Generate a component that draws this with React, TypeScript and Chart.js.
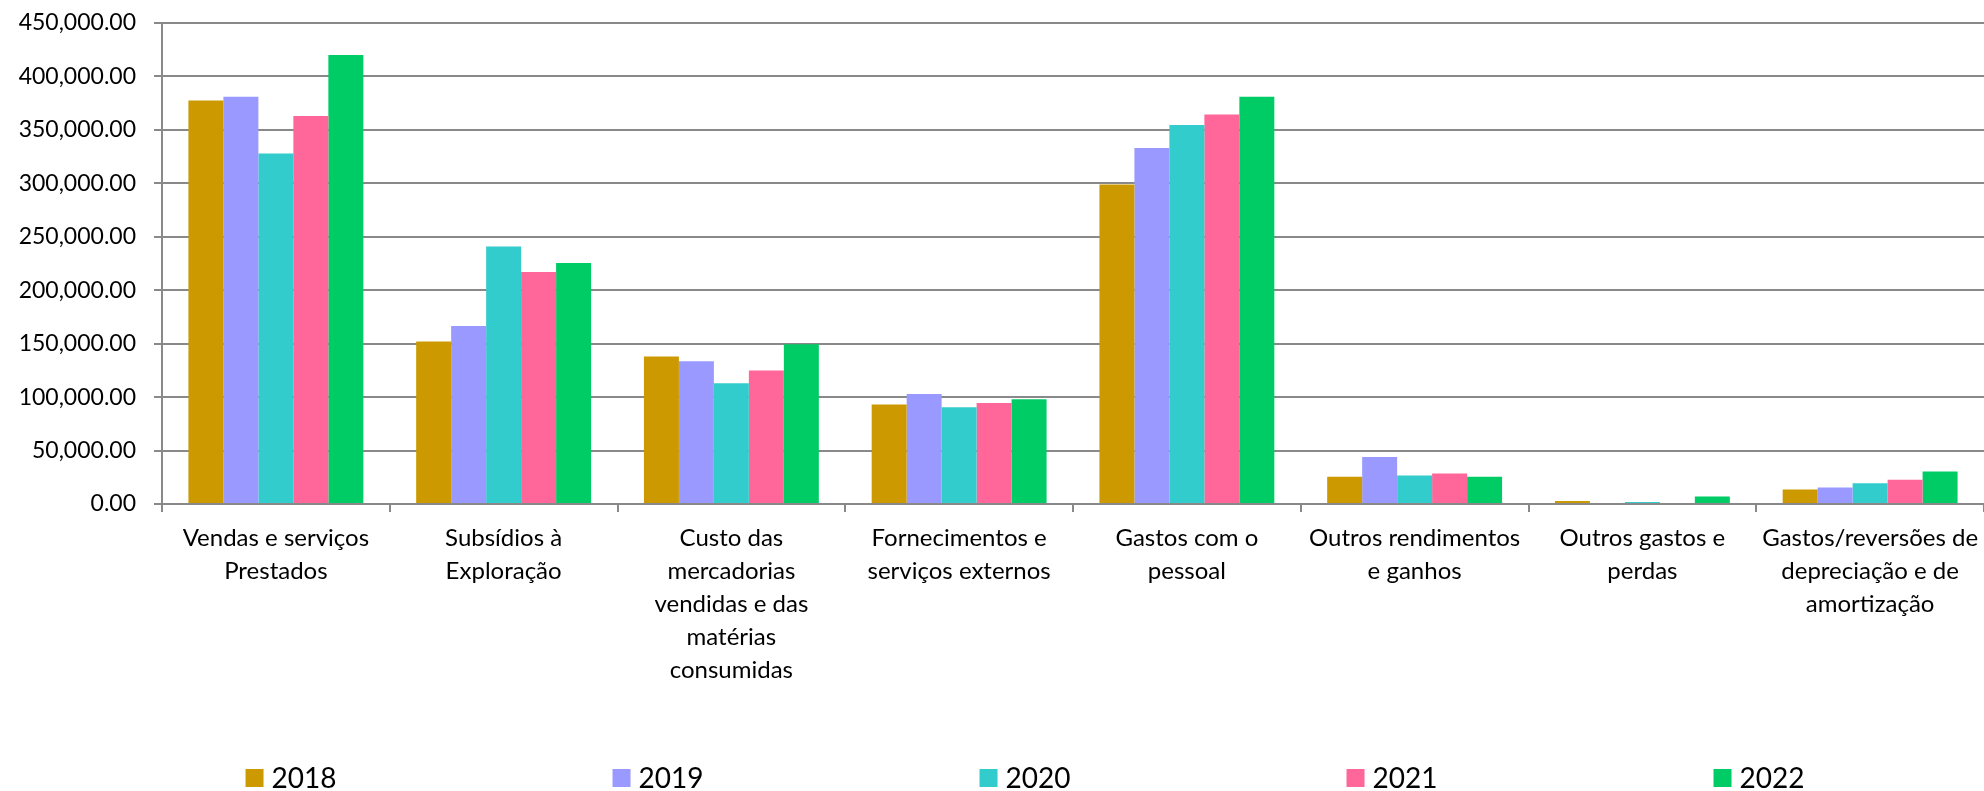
import React, { useEffect, useRef } from "react";
import { Chart, registerables } from "chart.js";

Chart.register(...registerables);

const categories: string[][] = [
  ["Vendas e serviços", "Prestados"],
  ["Subsídios à", "Exploração"],
  ["Custo das", "mercadorias", "vendidas e das", "matérias", "consumidas"],
  ["Fornecimentos e", "serviços externos"],
  ["Gastos com o", "pessoal"],
  ["Outros rendimentos", "e ganhos"],
  ["Outros gastos e", "perdas"],
  ["Gastos/reversões de", "depreciação e de", "amortização"],
];

const years: string[] = ["2018", "2019", "2020", "2021", "2022"];

const values2018: number[] = [377500, 152000, 138000, 93000, 299000, 25600, 2800, 13600];
const values2019: number[] = [381000, 166500, 133500, 103000, 333000, 44000, 900, 15500];
const values2020: number[] = [328000, 241000, 113000, 90500, 354500, 26600, 1900, 19300];
const values2021: number[] = [363000, 217000, 125000, 94500, 364500, 28500, 0, 22800];
const values2022: number[] = [420000, 225500, 149500, 98000, 381000, 25600, 7000, 30400];

const seriesValues: number[][] = [values2018, values2019, values2020, values2021, values2022];
const seriesColors: string[] = ["#CC9900", "#9999FF", "#33CCCC", "#FF6699", "#00CC66"];

const yTicks: number[] = [0, 50000, 100000, 150000, 200000, 250000, 300000, 350000, 400000, 450000];

const FONT = "Lato, 'Open Sans', sans-serif";

const fmt = (v: number) =>
  v.toLocaleString("en-US", { minimumFractionDigits: 2, maximumFractionDigits: 2 });

const bottomLegend = {
  id: "bottomLegend",
  afterDraw(chart: any) {
    const ctx = chart.ctx as CanvasRenderingContext2D;
    const box = 18;
    const gap = 8;
    const spacing = 367;
    const yCenter = 778;
    ctx.save();
    ctx.font = `28px ${FONT}`;
    ctx.textBaseline = "middle";
    ctx.textAlign = "left";
    const ds = chart.data.datasets;
    const lastW = box + gap + ctx.measureText(String(ds[ds.length - 1].label)).width;
    const total = spacing * (ds.length - 1) + lastW;
    const start = chart.width / 2 + 33 - total / 2;
    ds.forEach((d: any, i: number) => {
      const x = start + i * spacing;
      ctx.fillStyle = d.backgroundColor;
      ctx.fillRect(x, yCenter - box / 2, box, box);
      ctx.fillStyle = "#000000";
      ctx.fillText(String(d.label), x + box + gap, yCenter + 1);
    });
    ctx.restore();
  },
};

export default function App() {
  const canvasRef = useRef<HTMLCanvasElement | null>(null);

  useEffect(() => {
    if (!canvasRef.current) return;
    const chart = new Chart(canvasRef.current, {
      type: "bar",
      data: {
        labels: categories,
        datasets: years.map((y, i) => ({
          label: y,
          data: seriesValues[i],
          backgroundColor: seriesColors[i],
          borderWidth: 0,
          categoryPercentage: 0.768,
          barPercentage: 1,
        })),
      },
      options: {
        animation: false,
        responsive: false,
        maintainAspectRatio: false,
        layout: { padding: { top: 23, left: 0, right: 0, bottom: 0 } },
        plugins: {
          legend: { display: false },
          tooltip: { enabled: false },
        },
        scales: {
          x: {
            grid: {
              display: true,
              drawOnChartArea: false,
              drawTicks: true,
              tickLength: 8,
              offset: true,
              color: "#898989",
              lineWidth: 2,
            },
            border: { display: true, color: "#898989", width: 2 },
            ticks: {
              color: "#000000",
              font: { family: FONT, size: 24, lineHeight: 1.375 },
              padding: 10,
              maxRotation: 0,
              minRotation: 0,
              autoSkip: false,
            },
            afterFit: (scale: any) => {
              scale.height = 287;
              scale.paddingLeft = 0;
              scale.paddingRight = 0;
            },
          },
          y: {
            min: 0,
            max: 450000,
            afterBuildTicks: (scale: any) => {
              scale.ticks = yTicks.map((v) => ({ value: v }));
            },
            grid: {
              color: "#898989",
              lineWidth: 2,
              tickLength: 8,
              drawTicks: true,
            },
            border: { display: true, color: "#898989", width: 2 },
            ticks: {
              color: "#000000",
              font: { family: FONT, size: 23 },
              padding: 18,
              callback: (v: any) => fmt(Number(v)),
            },
            afterFit: (scale: any) => {
              scale.width = 162;
              scale.paddingTop = 0;
              scale.paddingBottom = 0;
            },
          },
        },
      },
      plugins: [bottomLegend],
    });
    return () => chart.destroy();
  }, []);

  return (
    <div style={{ position: "absolute", left: 0, top: 0, width: 1984, height: 791, background: "#ffffff" }}>
      <canvas ref={canvasRef} width={1984} height={791} style={{ display: "block", width: 1984, height: 791 }} />
    </div>
  );
}
